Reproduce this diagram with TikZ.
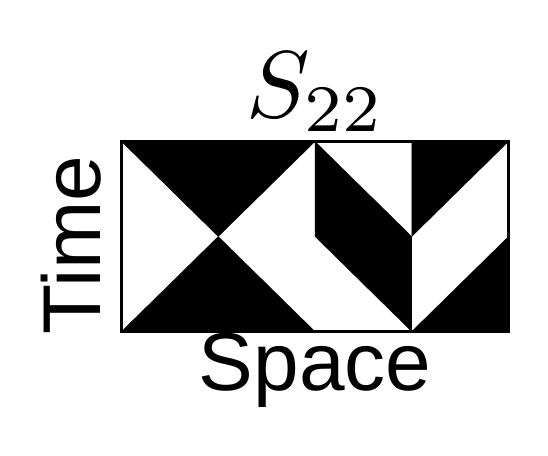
\documentclass[tikz,border=0pt]{standalone}
\usepackage{fontspec}
\setsansfont{Liberation Sans}
\begin{document}
\begin{tikzpicture}[x=1pt,y=-1pt,
  blk/.style={fill=black,draw=black,line width=0.3pt},
  lbl/.style={font=\sffamily\fontsize{82}{90}\selectfont,inner sep=0pt}]
\useasboundingbox (0,0) rectangle (548,455);
% coordinates
\coordinate (A) at (121.5,141.5);
\coordinate (B) at (218.25,141.5);
\coordinate (C) at (315,141.5);
\coordinate (D) at (411.75,141.5);
\coordinate (E) at (508.5,141.5);
\coordinate (Am) at (121.5,236.5);
\coordinate (Bm) at (218.25,236.5);
\coordinate (Cm) at (315,236.5);
\coordinate (Dm) at (411.75,236.5);
\coordinate (Em) at (508.5,236.5);
\coordinate (Ab) at (121.5,331.5);
\coordinate (Bb) at (218.25,331.5);
\coordinate (Cb) at (315,331.5);
\coordinate (Db) at (411.75,331.5);
\coordinate (Eb) at (508.5,331.5);
% left square: hourglass
\fill[blk] (A) -- (C) -- (Bm) -- cycle;
\fill[blk] (Ab) -- (Cb) -- (Bm) -- cycle;
% right square
\fill[blk] (C) -- (Dm) -- (Db) -- (Cm) -- cycle;
\fill[blk] (D) -- (E) -- (Dm) -- cycle;
\fill[blk] (Em) -- (Eb) -- (Db) -- cycle;
% border
\draw[line width=3pt] (A) rectangle (Eb);
% labels
\node[inner sep=0pt,anchor=base,scale=9.5] (title) at (316,117) {$S_{22}$};
\node[lbl,anchor=base] (space) at (315,390) {Space};
\node[lbl,anchor=base,rotate=90] (time) at (100,245) {Time};
\end{tikzpicture}
\end{document}
